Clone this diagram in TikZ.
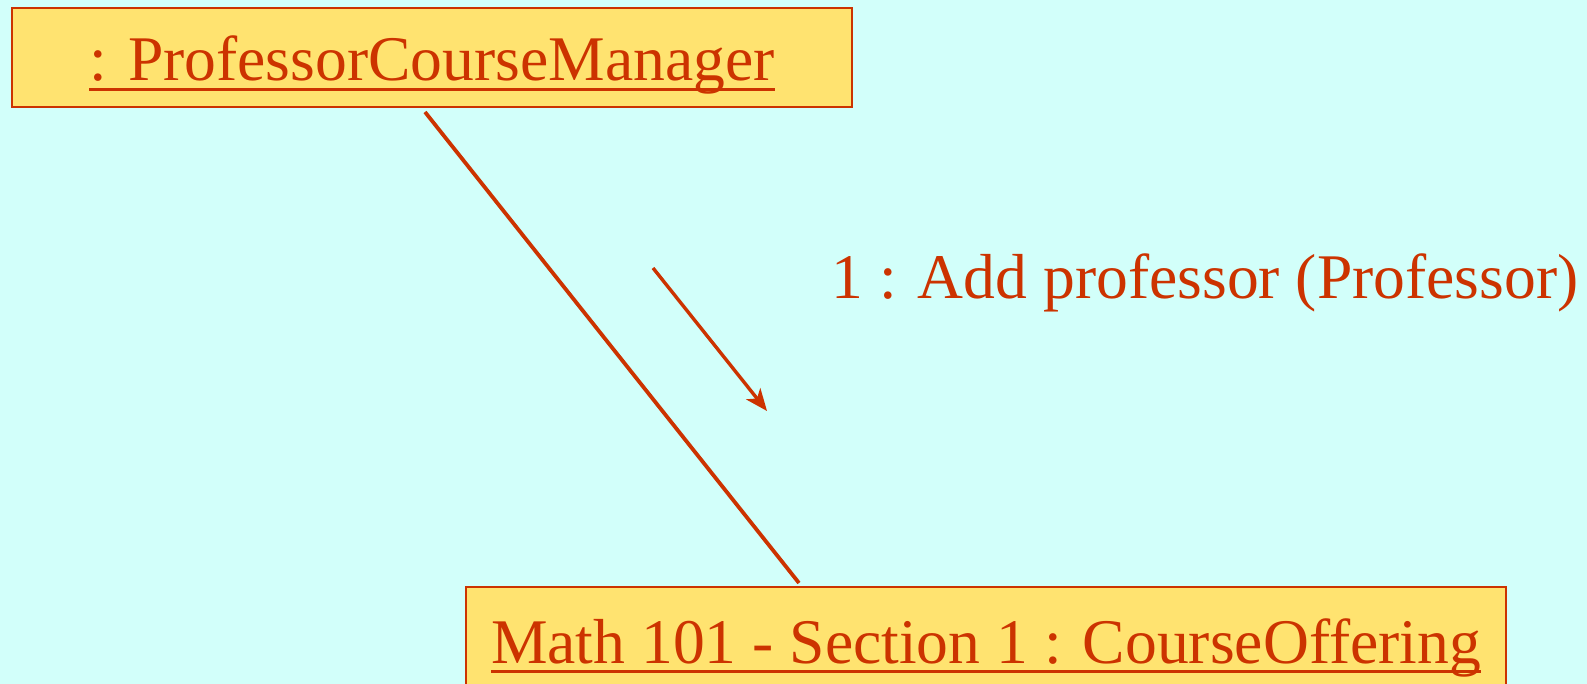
\documentclass[tikz,border=0pt]{standalone}
\usepackage{fontspec}
\setmainfont{Liberation Serif}
\usetikzlibrary{arrows.meta}
\definecolor{bgc}{RGB}{210,255,250}
\definecolor{boxfill}{RGB}{255,227,112}
\definecolor{umlred}{RGB}{204,51,0}
\newcommand\myul[1]{\setbox0\hbox{#1}\rlap{\rule[-4.9pt]{\wd0}{1.5pt}}\box0}
\tikzset{
  objbox/.style={draw=umlred, fill=boxfill, line width=1pt, inner sep=0pt,
    text=umlred, font=\fontsize{31.8}{38}\selectfont},
  msgtext/.style={text=umlred, font=\fontsize{31.8}{38}\selectfont, inner sep=0pt},
  link/.style={draw=umlred, line width=1.9pt},
  msgarrow/.style={draw=umlred, line width=1.7pt, -{Stealth[length=11pt,width=9pt,inset=3pt]}}
}
\begin{document}
\begin{tikzpicture}[x=0.5pt,y=-0.5pt]
\useasboundingbox (0,0) rectangle (1587,684);
\clip (0,0) rectangle (1587,684);
\fill[bgc] (0,0) rectangle (1587,684);
\node[objbox, minimum width=420pt, text height=36.5pt, text depth=13pt] (top) at (432,57.5) {\myul{: ProfessorCourseManager}};
\node[objbox, minimum width=520pt, text height=38pt, text depth=28.5pt] (bot) at (986,653.5) {\myul{Math 101 - Section 1 : CourseOffering}};
\draw[link] ([xshift=-3.5pt,yshift=-2pt]top.south) -- ([xshift=-93.5pt,yshift=1.5pt]bot.north);
\coordinate (a1) at (653,268);
\coordinate (a2) at (767,411);
\draw[msgarrow] (a1) -- (a2);
\node[msgtext, anchor=base west] (lbl) at (831,299) {1 : Add professor (Professor)};
\end{tikzpicture}
\end{document}
